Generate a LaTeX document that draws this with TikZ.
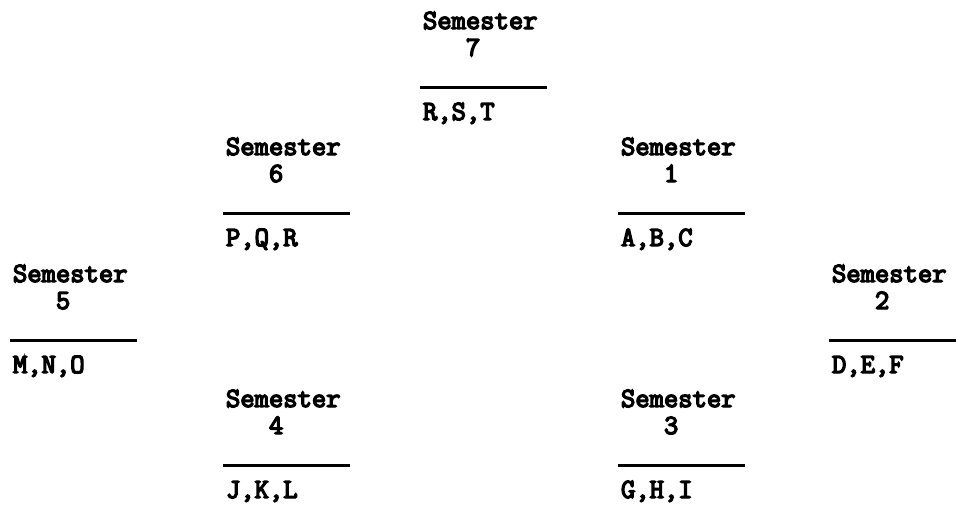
\documentclass[tikz,border=0pt]{standalone}
\usepackage{fontspec}
\newfontfamily\semff[FakeBold=5]{Latin Modern Mono}
\newcommand\semfont{\fontsize{27.8}{30}\selectfont\semff}
\tikzset{
  semtext/.style={inner sep=0pt, outer sep=0pt, anchor=base west, font=\semfont, text=black},
  semrule/.style={line width=3pt, black},
}
% #1 id, #2 left x of rule, #3 rule y, #4 digit, #5 label
\newcommand\semblock[5]{%
  \node[semtext] (h#1) at ({#2+3},{#3-58}) {Semester};
  \node[semtext] (d#1) at ({#2+3},{#3-31}) {\hphantom{Sem}#4};
  \coordinate (ra#1) at (#2,#3);
  \coordinate (rb#1) at ({#2+127},#3);
  \draw[semrule] (ra#1) -- (rb#1);
  \node[semtext] (c#1) at ({#2+3},{#3+33}) {#5};
}
\begin{document}
\begin{tikzpicture}[x=1pt,y=-1pt]
  \useasboundingbox[fill=white] (0,0) rectangle (957,507);
  \semblock{7}{420}{87}{7}{R,S,T}
  \semblock{6}{223}{213}{6}{P,Q,R}
  \semblock{1}{618}{213}{1}{A,B,C}
  \semblock{5}{10}{340}{5}{M,N,O}
  \semblock{2}{829}{340}{2}{D,E,F}
  \semblock{4}{223}{465}{4}{J,K,L}
  \semblock{3}{618}{465}{3}{G,H,I}
\end{tikzpicture}
\end{document}
